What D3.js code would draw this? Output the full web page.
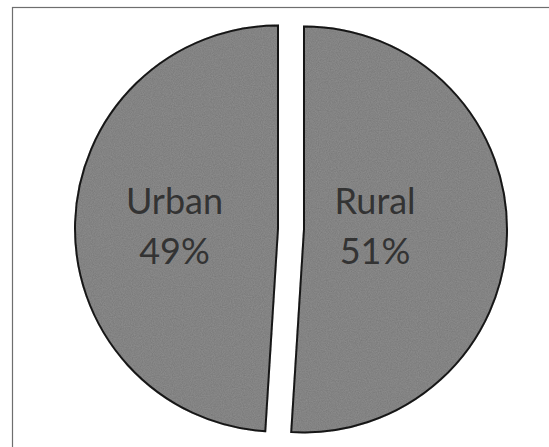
<!DOCTYPE html>
<html>
<head>
<meta charset="utf-8">
<script src="https://cdn.jsdelivr.net/npm/d3@7"></script>
<style>
  body { margin: 0; background: #fff; }
  .sliceLabel { font-family: Lato, 'Open Sans', sans-serif; font-size: 36px; fill: #333; }
</style>
</head>
<body>
<script>
  // chart data
  const categories = ['Rural', 'Urban'];
  const shares = [51, 49];
  const shareLabels = ['51%', '49%'];

  const width = 549;
  const height = 447;
  const cx = 291;
  const cy = 229;
  const radius = 203;
  const explode = 13;
  // horizontal distance of each label from its slice's centre (fraction of radius)
  const labelFactor = { Rural: 0.35, Urban: 0.51 };

  const svg = d3
    .select('body')
    .append('svg')
    .attr('width', width)
    .attr('height', height);

  // a little grain, like the scanned original
  const grain = svg.append('defs').append('filter').attr('id', 'grain');
  grain
    .append('feTurbulence')
    .attr('type', 'fractalNoise')
    .attr('baseFrequency', 0.9)
    .attr('numOctaves', 2)
    .attr('seed', 3)
    .attr('result', 'noise');
  grain
    .append('feColorMatrix')
    .attr('in', 'noise')
    .attr('type', 'matrix')
    .attr('values', '0 0 0 0 0  0 0 0 0 0  0 0 0 0 0  0 0 0 0.35 0')
    .attr('result', 'dark');
  grain
    .append('feComposite')
    .attr('in', 'dark')
    .attr('in2', 'SourceGraphic')
    .attr('operator', 'in')
    .attr('result', 'clipped');
  const merge = grain.append('feMerge');
  merge.append('feMergeNode').attr('in', 'SourceGraphic');
  merge.append('feMergeNode').attr('in', 'clipped');

  // chart area frame (runs off the right and bottom of the scan)
  svg
    .append('rect')
    .attr('x', 12.5)
    .attr('y', 7.5)
    .attr('width', width + 20)
    .attr('height', height + 20)
    .style('fill', 'none')
    .style('stroke', '#6e6e6e')
    .style('stroke-width', 1.2);

  const pieData = d3
    .pie()
    .sort(null)
    .startAngle(0)
    .value((d) => d.value)(categories.map((c, i) => ({ name: c, value: shares[i], label: shareLabels[i] })));

  const arcGenerator = d3.arc().innerRadius(0).outerRadius(radius);

  const pieGroup = svg.append('g').attr('transform', `translate(${cx}, ${cy})`);

  const slices = pieGroup
    .selectAll('g.slice')
    .data(pieData)
    .enter()
    .append('g')
    .attr('class', 'slice')
    .attr('transform', (d) => {
      const mid = (d.startAngle + d.endAngle) / 2;
      return `translate(${explode * Math.sin(mid)}, ${-explode * Math.cos(mid)})`;
    });

  slices
    .append('path')
    .attr('d', arcGenerator)
    .attr('filter', 'url(#grain)')
    .style('fill', '#909090')
    .style('stroke', '#1f1f1f')
    .style('stroke-width', 2)
    .style('stroke-linejoin', 'miter');

  const labels = slices
    .append('text')
    .attr('class', 'sliceLabel')
    .attr('text-anchor', 'middle')
    .attr('transform', (d) => {
      const mid = (d.startAngle + d.endAngle) / 2;
      const r = radius * labelFactor[d.data.name];
      return `translate(${r * Math.sign(Math.sin(mid))}, 0)`;
    });

  labels.append('tspan').attr('x', 0).attr('y', -15).text((d) => d.data.name);
  labels.append('tspan').attr('x', 0).attr('y', 35).text((d) => d.data.label);
</script>
</body>
</html>
